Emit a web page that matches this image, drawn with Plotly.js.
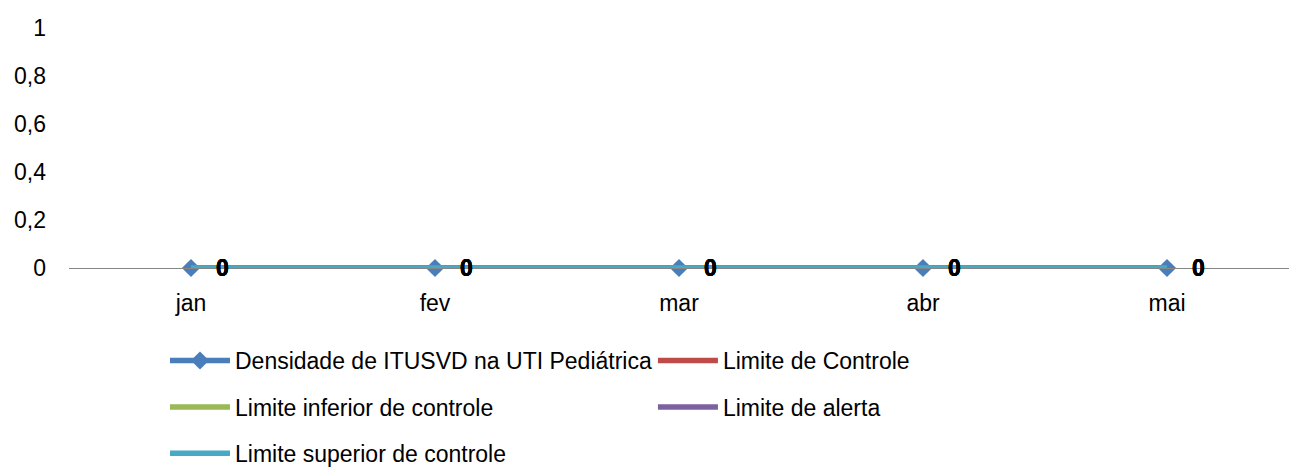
<!DOCTYPE html>
<html>
<head>
<meta charset="utf-8">
<script src="https://cdn.plot.ly/plotly-3.0.1.min.js"></script>
<style>
  html, body { margin: 0; padding: 0; background: #fff; }
  #chart { width: 1295px; height: 467px; }
</style>
</head>
<body>
<div id="chart"></div>
<script>
// Monthly categories and series values (all zero in the source chart)
const months = ['jan', 'fev', 'mar', 'abr', 'mai'];
const densidade = [0, 0, 0, 0, 0];
const limiteControle = [0, 0, 0, 0, 0];
const limiteInferior = [0, 0, 0, 0, 0];
const limiteAlerta = [0, 0, 0, 0, 0];
const limiteSuperior = [0, 0, 0, 0, 0];

const seriesNames = [
    'Densidade de ITUSVD na UTI Pediátrica',
    'Limite de Controle',
    'Limite inferior de controle',
    'Limite de alerta',
    'Limite superior de controle'
];
const seriesValues = [densidade, limiteControle, limiteInferior, limiteAlerta, limiteSuperior];
const seriesColors = ['#4a7ebb', '#be4b48', '#98b954', '#7d60a0', '#46aac5'];
// which legend box each series sits in (Excel lays them out in two columns)
const seriesLegend = ['legend', 'legend2', 'legend', 'legend2', 'legend'];

const font = "'Liberation Sans', Arial, sans-serif";
const fsize = 23;

const traces = seriesValues.map(function (vals, i) {
    const t = {
        x: months,
        y: vals,
        type: 'scatter',
        mode: i === 0 ? 'lines+markers' : 'lines',
        name: seriesNames[i],
        legend: seriesLegend[i],
        legendgroup: 'g' + i,
        line: { color: seriesColors[i], width: 5.5 },
        cliponaxis: false,
        hoverinfo: 'skip'
    };
    if (i === 0) {
        t.marker = { symbol: 'diamond', size: 14, color: seriesColors[i] };
    }
    return t;
});

// data labels, one per point per series, drawn to the right of the point
const annotations = [];
seriesValues.forEach(function (vals) {
    vals.forEach(function (v, j) {
        annotations.push({
            x: months[j],
            y: v,
            text: '<b>' + String(v) + '</b>',
            showarrow: false,
            xshift: 31,
            font: { family: font, size: fsize, color: '#000' }
        });
    });
});

const legendBase = {
    orientation: 'v',
    xref: 'container', yref: 'container',
    xanchor: 'left', yanchor: 'top',
    y: 0.274,
    tracegroupgap: 13.5,
    itemwidth: 60,
    bgcolor: 'rgba(0,0,0,0)',
    font: { family: font, size: fsize, color: '#000' }
};

const layout = {
    width: 1295,
    height: 467,
    paper_bgcolor: '#fff',
    plot_bgcolor: '#fff',
    separators: ',.',
    font: { family: font, size: fsize, color: '#000' },
    margin: { l: 69, r: 6, t: 28, b: 199, autoexpand: false },
    showlegend: true,
    xaxis: {
        type: 'category',
        range: [-0.5, 4.5],
        showgrid: false,
        zeroline: false,
        showline: true,
        linecolor: '#868686',
        linewidth: 1,
        ticks: '',
        ticklabelstandoff: 14,
        fixedrange: true
    },
    yaxis: {
        range: [0, 1],
        dtick: 0.2,
        showgrid: false,
        zeroline: false,
        showline: false,
        ticks: '',
        ticklabelstandoff: 22,
        fixedrange: true
    },
    legend: Object.assign({}, legendBase, { x: 0.1274 }),
    legend2: Object.assign({}, legendBase, { x: 0.5042 }),
    annotations: annotations
};

Plotly.newPlot('chart', traces, layout, { displayModeBar: false, staticPlot: true });
</script>
</body>
</html>
